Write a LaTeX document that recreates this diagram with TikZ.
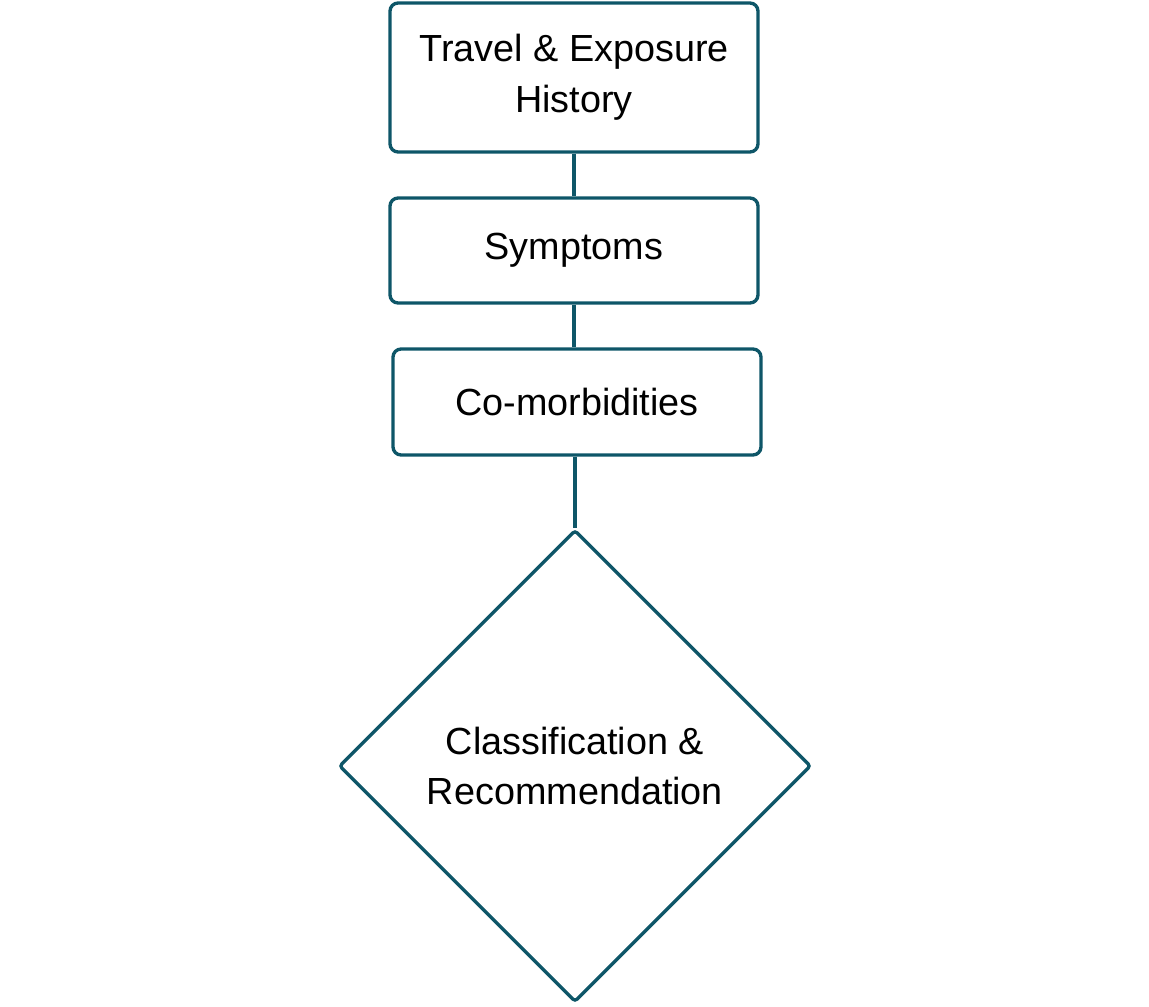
\documentclass[tikz,border=0pt]{standalone}
\usepackage{fontspec}
\setmainfont{Liberation Sans}
\usetikzlibrary{shapes.geometric,
           positioning}
\definecolor{bord}{RGB}{14,86,104}

\begin{document}
\begin{tikzpicture}[x=0.02cm,y=-0.02cm,
    etape/.style={draw=bord,line width=1.9pt,rounded corners=0.16cm,
        minimum width=7.36cm,align=center,inner sep=0pt,
        font=\fontsize{21.5}{29}\selectfont},
    decision/.style={diamond,draw=bord,line width=1.9pt,rounded corners=0.06cm,
        minimum width=9.44cm,minimum height=9.44cm,inner sep=0pt,align=center,
        font=\fontsize{21.5}{29}\selectfont},
    lien/.style={draw=bord,line width=1.9pt}]
    \useasboundingbox (0,0) rectangle (1149,1007);
    \node[etape,minimum height=2.98cm](histoire)at(574,77.5){Travel \& Exposure\\History};
    \node[etape,minimum height=2.1cm](symptomes)at(574,250.5){Symptoms};
    \node[etape,minimum height=2.12cm](comorb)at(577,402){Co-morbidities};
    \node[decision](classif)at(575,766){Classification \&\\Recommendation};
    \draw[lien] (histoire.south)--(symptomes.north);
    \draw[lien] (symptomes.south)--(symptomes.south |- comorb.north);
    \draw[lien] (classif.north |- comorb.south)--(classif.north);
\end{tikzpicture}
\end{document}
